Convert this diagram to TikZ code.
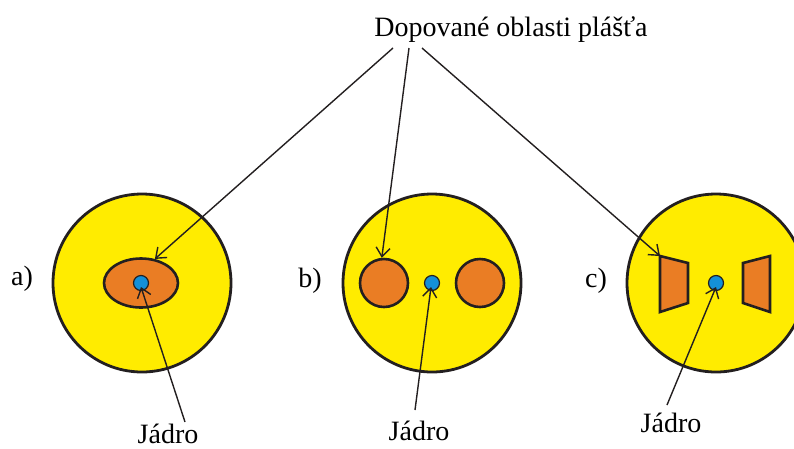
\documentclass[tikz,border=0pt]{standalone}
\usepackage{fontspec}
\setmainfont{Liberation Serif}
\usetikzlibrary{arrows.meta,shapes.geometric}
\definecolor{cladY}{HTML}{FFEC00}
\definecolor{dopO}{HTML}{EA7D24}
\definecolor{coreB}{HTML}{1490D8}
\definecolor{outl}{HTML}{231F20}
\tikzset{
  fiber/.style={draw=outl,line width=2.8pt,fill=cladY},
  doped/.style={draw=outl,line width=2.6pt,fill=dopO},
  corest/.style={draw=outl,line width=1.2pt,fill=coreB},
  lbl/.style={font=\fontsize{28}{30}\selectfont,inner sep=0pt},
  ptr/.style={draw=outl,line width=1.4pt,-{Straight Barb[length=9pt,width=14pt,line width=1.4pt]}}
}
\begin{document}
\begin{tikzpicture}[x=1pt,y=-1pt]
\useasboundingbox (0,0) rectangle (794,448);
% a)
\node[fiber,circle,minimum size=178pt,inner sep=0pt] (fa) at (142,283) {};
\node[doped,ellipse,minimum width=74pt,minimum height=49pt,inner sep=0pt] (ea) at (141,283) {};
\node[corest,circle,minimum size=15pt,inner sep=0pt] (ca) at (141,283) {};
% b)
\node[fiber,circle,minimum size=178pt,inner sep=0pt] (fb) at (432,283) {};
\node[doped,circle,minimum size=48pt,inner sep=0pt] (ob1) at (384,283) {};
\node[doped,circle,minimum size=48pt,inner sep=0pt] (ob2) at (480,283) {};
\node[corest,circle,minimum size=15pt,inner sep=0pt] (cb) at (432,283) {};
% c)
\node[fiber,circle,minimum size=178pt,inner sep=0pt] (fc) at (716,283) {};
\draw[doped] (660,256) coordinate (tl) -- (688,263) -- (688,303) -- (660,312) -- cycle;
\draw[doped] (770,256) -- (743,263) -- (743,303) -- (770,312) -- cycle;
\node[corest,circle,minimum size=15pt,inner sep=0pt] (cc) at (716,283) {};
% labels
\node[lbl,anchor=base] (la) at (22,285) {a)};
\node[lbl,anchor=base] (lb) at (310,287) {b)};
\node[lbl,anchor=base] (lc) at (596,287) {c)};
\node[lbl,anchor=base] (top) at (511,36) {Dopované oblasti plášťa};
\node[lbl,anchor=base] (ja) at (168,443) {Jádro};
\node[lbl,anchor=base] (jb) at (419,440) {Jádro};
\node[lbl,anchor=base] (jc) at (671,432) {Jádro};
% connectors
\coordinate (s1) at (393,48);
\coordinate (s2) at (409,48);
\coordinate (s3) at (422,48);
\draw[ptr] (s1) -- (ea.60);
\draw[ptr] (s2) -- (ob1.95);
\draw[ptr] (s3) -- (tl);
\coordinate (ta) at (185,422);
\coordinate (tb) at (415,410);
\coordinate (tc) at (667,405);
\draw[ptr] (ta) -- (141,287);
\draw[ptr] (tb) -- (431,287);
\draw[ptr] (tc) -- (716,287);
\end{tikzpicture}
\end{document}
